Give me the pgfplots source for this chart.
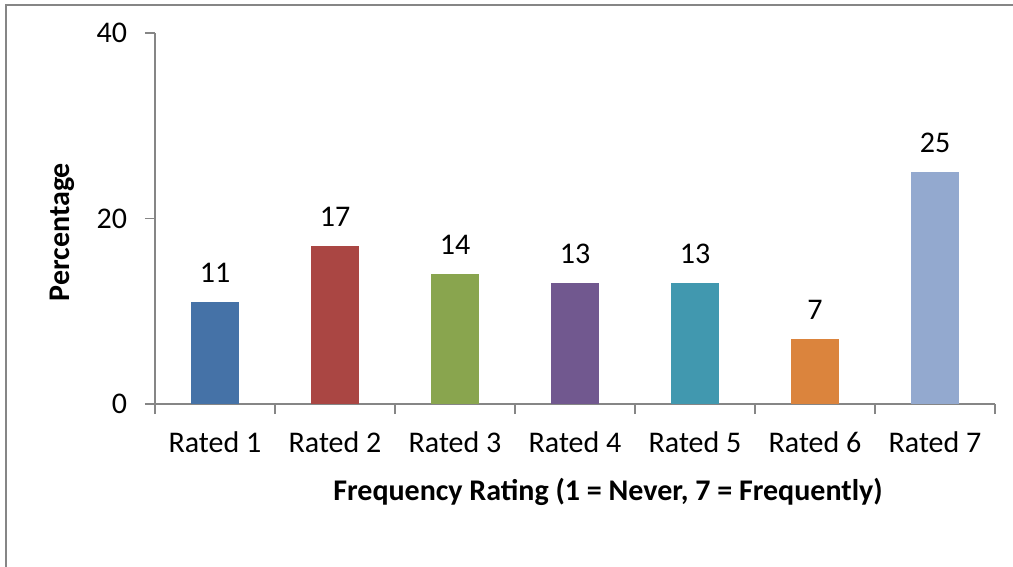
\documentclass[border=0pt]{standalone}
\usepackage{fontspec}
\setmainfont{Carlito}
\usepackage{pgfplots}
\pgfplotsset{compat=1.18}

\definecolor{gframe}{RGB}{134,134,134}
\definecolor{c1}{RGB}{69,114,167}
\definecolor{c2}{RGB}{170,70,67}
\definecolor{c3}{RGB}{137,165,78}
\definecolor{c4}{RGB}{113,88,143}
\definecolor{c5}{RGB}{65,152,175}
\definecolor{c6}{RGB}{219,132,61}
\definecolor{c7}{RGB}{147,169,207}

\newcommand{\chartfont}{\fontsize{15bp}{17bp}\selectfont}

\begin{document}
\begin{tikzpicture}
\begin{axis}[
    at={(0,0)}, anchor=south west,
    scale only axis,
    width=420bp, height=185.5bp,
    xmin=0.5, xmax=7.5,
    ymin=0, ymax=40,
    enlargelimits=false,
    axis lines*=left,
    axis line style={draw=gframe, line width=0.8bp, -},
    tick style={draw=gframe, line width=0.8bp},
    tick align=outside,
    major tick length=5bp,
    xtick={0.5,1.5,...,7.5},
    xticklabels={},
    extra x ticks={1,2,3,4,5,6,7},
    extra x tick labels={Rated 1,Rated 2,Rated 3,Rated 4,Rated 5,Rated 6,Rated 7},
    extra x tick style={major tick length=0pt},
    ytick={0,20,40},
    ticklabel style={font=\chartfont, text=black},
    xticklabel style={yshift=-10.5bp},
    yticklabel style={xshift=-5.5bp},
    /pgf/number format/assume math mode=true,
    ybar,
    bar width=0.4,
    bar shift=0pt,
    nodes near coords,
    every node near coord/.append style={font=\chartfont, text=black, inner sep=0pt, yshift=9.5bp},
]
\addplot[fill=c1, draw=none] coordinates {(1,11)};
\addplot[fill=c2, draw=none] coordinates {(2,17)};
\addplot[fill=c3, draw=none] coordinates {(3,14)};
\addplot[fill=c4, draw=none] coordinates {(4,13)};
\addplot[fill=c5, draw=none] coordinates {(5,13)};
\addplot[fill=c6, draw=none] coordinates {(6,7)};
\addplot[fill=c7, draw=none] coordinates {(7,25)};
\end{axis}
\node[rotate=90, font=\chartfont\bfseries] at (-46.5bp,86bp) {Percentage};
\node[font=\chartfont\bfseries] at (226.5bp,-44bp) {Frequency Rating (1 = Never, 7 = Frequently)};
\pgfresetboundingbox
\useasboundingbox (-77.5bp,-81.5bp) rectangle (429bp,202bp);
\draw[gframe, line width=1bp] (-74.5bp,-90bp) -- (-74.5bp,199.5bp) -- (440bp,199.5bp);
\end{tikzpicture}
\end{document}
